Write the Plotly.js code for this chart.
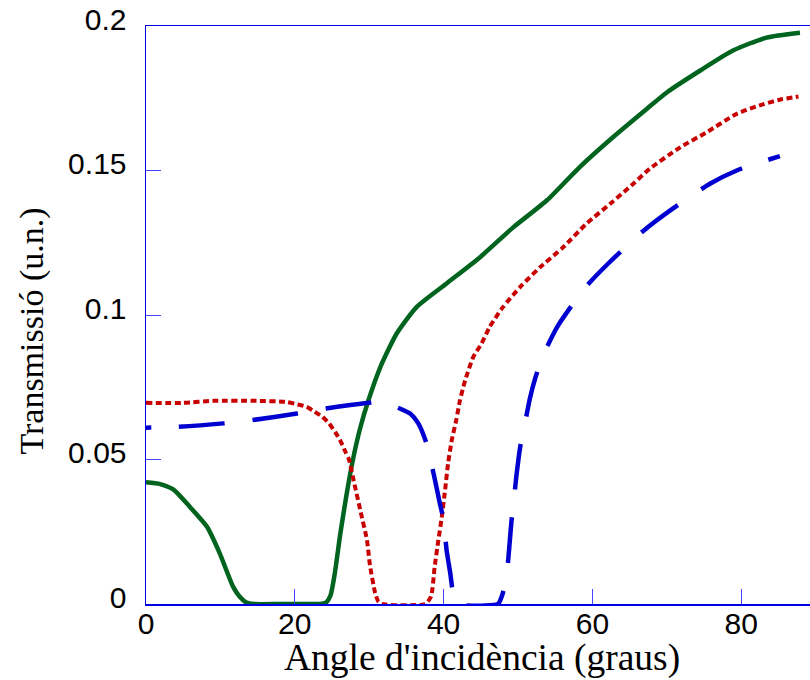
<!DOCTYPE html>
<html>
<head>
<meta charset="utf-8">
<script src="https://cdn.plot.ly/plotly-3.0.1.min.js"></script>
<style>
html,body{margin:0;padding:0;background:#fff;overflow:hidden;}
#chart{width:810px;height:680px;}
</style>
</head>
<body>
<div id="chart"></div>
<script>
// Green solid series
var greenX = [0,1.9,3.7,5.9,8.2,9.9,11.7,12.6,13.5,14.5,18,22,23.4,24.2,24.8,25.4,26.1,26.9,27.8,28.8,29.9,31.5,33.7,36.4,40.4,44.9,49.4,53.9,58.3,62.8,67.3,70,74.5,78.9,83.4,87.9];
var greenY = [0.0421,0.0415,0.0396,0.0336,0.0267,0.0176,0.006,0.0025,0.0005,0,0,0,0,0.0005,0.003,0.011,0.024,0.037,0.0498,0.061,0.0705,0.082,0.0936,0.1028,0.1109,0.120,0.1304,0.1397,0.1512,0.1616,0.1713,0.177,0.1846,0.1915,0.196,0.1977];

// Red dotted series
var redX = [0,5,9,14.9,18.9,20.3,21.6,22.5,23.6,24.6,25.5,26.2,26.8,27.3,28.0,28.8,29.7,30.1,30.8,31.2,31.7,37.5,38.3,38.8,39.3,39.7,40.2,40.6,41.1,41.7,42.2,42.9,44,45.1,46.2,48,50.3,53,56.1,59.2,62.4,65.5,67.7,71.8,75.4,79.4,82.8,85.2,87.7];
var redY = [0.0696,0.0696,0.0703,0.0703,0.0699,0.0691,0.0682,0.0668,0.065,0.0625,0.0592,0.0561,0.0527,0.0498,0.0417,0.0325,0.0221,0.0135,0.0038,0.001,0,0,0.0025,0.0129,0.0221,0.029,0.0394,0.0486,0.0567,0.0636,0.0705,0.0774,0.0855,0.0901,0.0959,0.1028,0.1097,0.1166,0.1235,0.1316,0.1385,0.1454,0.1506,0.158,0.1633,0.1696,0.1728,0.1745,0.1756];

// Blue dashed series
var blueX = [0,4.3,10.4,14.2,20.3,24.1,29.9,31.7,33.6,35.5,36.6,37.7,38.7,39.5,40,40.4,40.9,41.3,41.7,47.3,47.8,48.4,48.8,49.1,49.4,49.8,50.3,50.8,51.6,52.3,53.4,55.4,59.1,62.2,66.8,70.8,75.8,79.4,85.2];
var blueY = [0.061,0.0613,0.0625,0.0636,0.0659,0.0676,0.0696,0.0700,0.0682,0.0659,0.0625,0.0556,0.0446,0.0348,0.029,0.0187,0.0106,0.003,0,0,0.0025,0.0083,0.0187,0.028,0.0348,0.0446,0.0544,0.0607,0.0711,0.078,0.0862,0.0964,0.1097,0.118,0.129,0.1368,0.1454,0.150,0.155];

var xTickVals = [0,20,40,60,80];
var xTickText = ['0','20','40','60','80'];
var yTickVals = [0,0.05,0.1,0.15,0.2];
var yTickText = ['0','0.05','0.1','0.15','0.2'];
var xTitle = "Angle d'incidència (graus)";
var yTitle = 'Transmissió (u.n.)';

// dash pattern for the blue line: short leading piece, then long dashes
var blueDash = '5px,28px';
for (var i = 0; i < 24; i++) { blueDash += ',46px,28px'; }

var traces = [
  {x: greenX, y: greenY, mode: 'lines', line: {color: '#00641e', width: 4.5, shape: 'spline', smoothing: 0.6}},
  {x: redX, y: redY, mode: 'lines', line: {color: '#c80000', width: 4, dash: '6px,3.5px', shape: 'spline', smoothing: 0.6}},
  {x: blueX, y: blueY, mode: 'lines', line: {color: '#0000d0', width: 4.5, dash: blueDash, shape: 'spline', smoothing: 0.6}}
];

var axisLine = '#0000e6';
var tickFont = {family: 'Liberation Sans, Arial, sans-serif', size: 30, color: '#000'};
var xTitleFont = {family: 'Liberation Serif, Times New Roman, serif', size: 37.5, color: '#000'};
var yTitleFont = {family: 'Liberation Serif, Times New Roman, serif', size: 34, color: '#000'};
var layout = {
  width: 810, height: 680,
  margin: {l: 146, r: 0, t: 26, b: 76, pad: 0},
  paper_bgcolor: '#ffffff', plot_bgcolor: '#ffffff',
  showlegend: false,
  xaxis: {
    range: [0, 89.25], showgrid: false, zeroline: false,
    showline: true, linecolor: axisLine, linewidth: 1.5, mirror: true,
    ticks: 'inside', ticklen: 15, tickwidth: 1, tickcolor: '#4444ff',
    tickvals: xTickVals, ticktext: xTickText,
    ticklabelstandoff: -8,
    tickfont: tickFont
  },
  yaxis: {
    range: [0, 0.2], showgrid: false, zeroline: false,
    showline: true, linecolor: axisLine, linewidth: 1.5, mirror: false,
    ticks: 'inside', ticklen: 15, tickwidth: 1, tickcolor: '#4444ff',
    tickvals: yTickVals, ticktext: yTickText,
    ticklabelstandoff: 12, ticklabelshift: -7,
    tickfont: tickFont
  },
  annotations: [
    {text: xTitle, xref: 'paper', yref: 'paper', x: 0.506, y: -0.054,
     xanchor: 'center', yanchor: 'top', showarrow: false, font: xTitleFont},
    {text: yTitle, xref: 'paper', yref: 'paper', x: -0.1717, y: 0.473,
     xanchor: 'center', yanchor: 'middle', textangle: -90, showarrow: false, font: yTitleFont}
  ]
};

Plotly.newPlot('chart', traces, layout, {displayModeBar: false, staticPlot: true});
</script>
</body>
</html>
